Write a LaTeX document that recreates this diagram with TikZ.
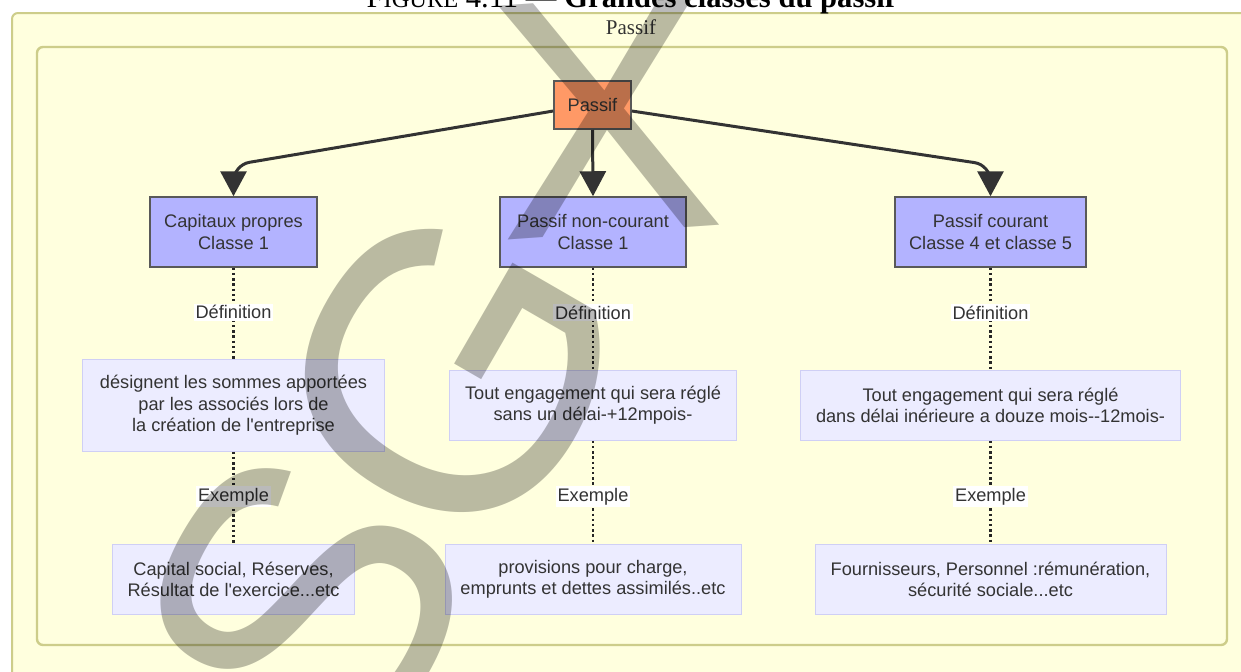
\documentclass[tikz,border=0pt]{standalone}
\usepackage{fontspec}
\setmainfont{Liberation Sans}[Ligatures=TeXOff]
\newfontfamily\legendefont{Liberation Serif}
\usepackage{xcolor}
\usetikzlibrary{arrows.meta,positioning}
\definecolor{texte}{HTML}{333333}
\definecolor{fondgroupe}{HTML}{FFFFDE}
\definecolor{bordgroupe}{HTML}{CDCD8A}
\definecolor{orangep}{HTML}{FF9966}
\definecolor{lavande}{HTML}{B3B3FF}
\definecolor{lavclair}{HTML}{ECECFF}
\definecolor{bordclair}{HTML}{CFCFF5}

\begin{document}
\begin{tikzpicture}[x=0.5pt, y=-0.5pt, boite/.style={draw=black!65, line width=0.75pt, align=center, text=texte, font=\fontsize{9.1}{10.8}\selectfont, inner sep=0pt}, racine/.style={boite, fill=orangep, minimum width=38.5pt, minimum height=24pt}, classe/.style={boite, fill=lavande, minimum height=35pt}, detail/.style={boite, draw=bordclair, line width=0.5pt, fill=lavclair, minimum height=35pt}, etiq/.style={fill=white, text=texte, font=\fontsize{9.1}{10.8}\selectfont, inner sep=1pt}, fleche/.style={draw=black!80, line width=1.5pt, rounded corners=8pt, -{Triangle[width=13pt,length=12.5pt]}}, pointille/.style={draw=black!85, line width=1.2pt, dash pattern=on 1.2pt off 1.4pt}, filigrane/.style={text opacity=0.27, inner sep=0pt}]
\useasboundingbox (0,0) rectangle (1241,671);
\fill[white] (0,0) rectangle (1241,671);
% cadres des groupes
\draw[fill=fondgroupe, draw=bordgroupe, line width=1pt, rounded corners=3pt] (12,13) rectangle (1275,705);
\draw[fill=fondgroupe, draw=bordgroupe, line width=1.2pt, rounded corners=3pt] (37,47) rectangle (1227,645);
\node[anchor=base, font=\legendefont\fontsize{15.3}{18}\selectfont] (legende) at (631,7) {F{\fontsize{12.2}{14}\selectfont IGURE} 4.11 — \textbf{Grandes classes du passif}};
\node[font=\legendefont\fontsize{10.5}{12}\selectfont, text=texte] (titre) at (631,27) {Passif};
% noeuds
\node[racine] (passif) at (592.5,105) {Passif};
\node[classe, minimum width=83.5pt] (cap) at (233.5,232) {Capitaux propres\\Classe 1};
\node[classe, minimum width=93pt] (nonc) at (593,232) {Passif non-courant\\Classe 1};
\node[classe, minimum width=95.5pt] (cour) at (990.5,232) {Passif courant\\Classe 4 et classe 5};
\node[detail, minimum width=151pt, minimum height=46pt, below=45.5pt of cap] (def1) {désignent les sommes apportées\\par les associés lors de\\la création de l'entreprise};
\node[detail, minimum width=143.5pt, below=51pt of nonc] (def2) {Tout engagement qui sera réglé\\sans un délai-+12mpois-};
\node[detail, minimum width=190pt, below=51pt of cour] (def3) {Tout engagement qui sera réglé\\dans délai inérieure a douze mois--12mois-};
\node[detail, minimum width=121pt, below=46pt of def1] (ex1) {Capital social, Réserves,\\Résultat de l'exercice...etc};
\node[detail, minimum width=148pt, below=51.5pt of def2] (ex2) {provisions pour charge,\\emprunts et dettes assimilés..etc};
\node[detail, minimum width=175.5pt, below=51.5pt of def3] (ex3) {Fournisseurs, Personnel :rémunération,\\sécurité sociale...etc};
% liens
\draw[fleche] ([yshift=-3pt]passif.west) -- (cap.north |- 0,165) -- (cap.north);
\draw[fleche] (passif.south) -- (nonc.north);
\draw[fleche] ([yshift=-3pt]passif.east) -- (cour.north |- 0,165) -- (cour.north);
\draw[pointille] (cap) -- node[etiq, pos=0.49] (d1) {Définition} (def1);
\draw[pointille] (nonc) -- node[etiq, pos=0.44] (d2) {Définition} (def2);
\draw[pointille] (cour) -- node[etiq, pos=0.44] (d3) {Définition} (def3);
\draw[pointille] (def1) -- node[etiq, pos=0.49] (e1) {Exemple} (ex1);
\draw[pointille] (def2) -- node[etiq, pos=0.54] (e2) {Exemple} (ex2);
\draw[pointille] (def3) -- node[etiq, pos=0.54] (e3) {Exemple} (ex3);
% filigrane
\node[filigrane, rotate=60, font=\fontsize{200}{200}\selectfont] (filS) at (305,605) {S};
\node[filigrane, rotate=60, font=\fontsize{200}{200}\selectfont] (filG) at (450,372) {G};
\node[filigrane, rotate=4, font=\fontsize{170}{170}\selectfont] (filX) at (605,116) {X};
\end{tikzpicture}
\end{document}
